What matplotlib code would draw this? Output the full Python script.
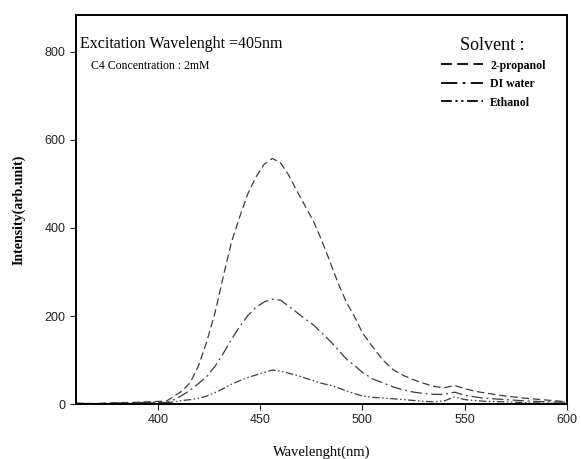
import matplotlib
matplotlib.use("Agg")
import matplotlib.pyplot as plt
from matplotlib.lines import Line2D

wavelength = [360, 370, 380, 390, 396, 400, 404, 408, 412, 416, 420, 424, 428, 432,
              436, 440, 444, 448, 452, 456, 460, 464, 468, 472, 476, 480, 484, 488,
              492, 496, 500, 505, 510, 515, 520, 525, 530, 535, 540, 545, 550, 555,
              560, 570, 580, 590, 600]
propanol = [2, 1, 3, 4, 5, 6, 6, 18, 30, 50, 88, 143, 208, 290,
            368, 425, 478, 516, 545, 558, 548, 520, 484, 450, 416, 373, 325, 276,
            233, 200, 162, 130, 100, 78, 65, 55, 47, 40, 37, 42, 35, 29,
            25, 18, 13, 9, 5]
di_water = [1, 1, 2, 3, 4, 4, 3, 10, 20, 32, 47, 63, 86, 115,
            147, 176, 201, 220, 232, 238, 236, 222, 208, 193, 180, 162, 144, 124,
            103, 88, 72, 57, 48, 39, 32, 27, 24, 22, 22, 27, 20, 16,
            13, 10, 7, 5, 4]
ethanol = [1, 0, 2, 1, 3, 2, 2, 5, 8, 10, 13, 18, 26, 35,
           45, 53, 60, 66, 72, 77, 75, 70, 65, 59, 53, 47, 43, 37,
           30, 24, 18, 15, 14, 12, 10, 8, 6, 5, 7, 16, 10, 8,
           6, 5, 3, 2, 1]

series_labels = ["2-propanol", "DI water", "Ethanol"]
x_ticks = [400, 450, 500, 550, 600]
y_ticks = [0, 200, 400, 600, 800]

serif = "Liberation Serif"
sans = "Liberation Sans"

fig = plt.figure(figsize=(5.81, 4.59), dpi=100)
ax = fig.add_axes([0.1308, 0.1198, 0.8451, 0.8475])

lc = "#3c3c3c"
styles = [(0, (6, 3)), (0, (9, 3, 1.5, 3)), (0, (6, 2, 1.2, 2, 1.2, 2))]
for ys, ls, lab in zip([propanol, di_water, ethanol], styles, series_labels):
    ax.plot(wavelength, ys, color=lc, lw=0.9, linestyle=ls, label=lab)

ax.set_xlim(360, 600)
ax.set_ylim(0, 884)
ax.set_xticks(x_ticks)
ax.set_yticks(y_ticks)
ax.tick_params(direction="out", length=4, width=0.8, labelsize=9, colors="#222222")
for lbl in ax.get_xticklabels() + ax.get_yticklabels():
    lbl.set_fontfamily(sans)
for s in ax.spines.values():
    s.set_linewidth(1.4)
    s.set_color("black")

ax.set_xlabel("Wavelenght(nm)", fontfamily=serif, fontsize=10.5, labelpad=14)
ax.set_ylabel("Intensity(arb.unit)", fontfamily=serif, fontsize=10, fontweight="bold", labelpad=14)

fig.text(80 / 581, 1 - 44 / 459, "Excitation Wavelenght =405nm", fontfamily=serif,
         fontsize=11.5, va="center", ha="left")
fig.text(91 / 581, 1 - 66 / 459, "C4 Concentration : 2mM", fontfamily=serif,
         fontsize=8.5, va="center", ha="left")
fig.text(492 / 581, 1 - 45 / 459, "Solvent :", fontfamily=serif,
         fontsize=13, va="center", ha="center")

handles = [Line2D([0], [0], color="black", lw=1.3, linestyle=ls) for ls in styles]
leg = ax.legend(handles, series_labels, loc="upper left",
                bbox_to_anchor=(430 / 581, 1 - 49 / 459), bbox_transform=fig.transFigure,
                frameon=False, handlelength=3.6, handletextpad=0.6, labelspacing=0.55,
                prop={"family": serif, "weight": "bold", "size": 8.5})

fig.savefig("out.png", dpi=100)
